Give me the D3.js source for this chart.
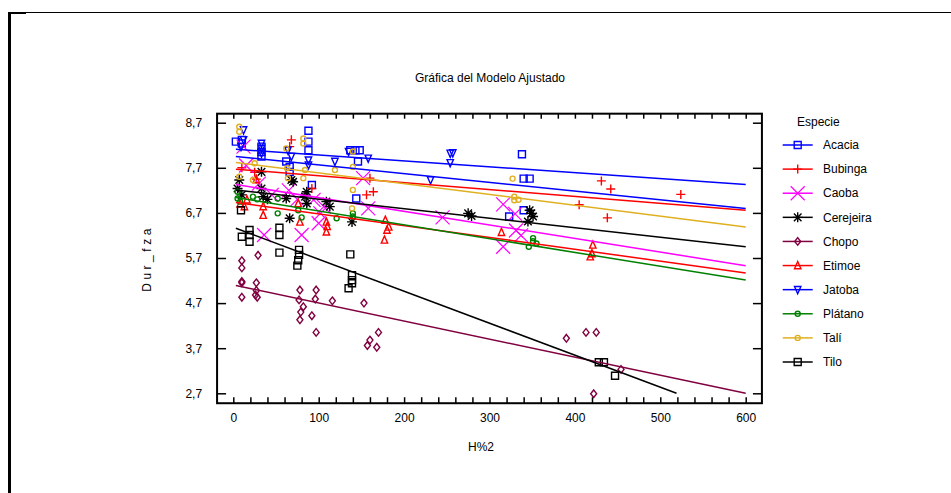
<!DOCTYPE html>
<html>
<head>
<meta charset="utf-8">
<script src="https://cdn.jsdelivr.net/npm/d3@7"></script>
<style>
  body { margin: 0; background: #fff; }
  svg { display: block; font-family: "Liberation Sans", Arial, sans-serif; }
</style>
</head>
<body>
<svg id="chart" width="951" height="493"></svg>
<script>
// ---- data ----
const species = ["Acacia", "Bubinga", "Caoba", "Cerejeira", "Chopo", "Etimoe", "Jatoba", "Plátano", "Talí", "Tilo"];
const xTicks = [0, 100, 200, 300, 400, 500, 600];
const yTicks = [2.7, 3.7, 4.7, 5.7, 6.7, 7.7, 8.7];

const acacia = [[3,8.28],[10,8.32],[10,8.24],[33,8.17],[33,8.05],[33,7.95],[62,7.84],[66,7.72],[66,7.61],[88,8.52],[88,8.28],[88,8.09],[92,7.32],[137,8.09],[143,8.09],[148,8.09],[146,7.84],[144,7.02],[338,8.0],[340,7.46],[347,7.46],[340,6.76],[323,6.62]];
const bubinga = [[68,8.32],[66,8.17],[10,7.7],[25,7.6],[27,7.45],[92,7.24],[160,7.47],[164,7.17],[156,7.10],[405,6.88],[431,7.41],[442,7.23],[524,7.11],[438,6.59]];
const caoba = [[12,8.17],[15,7.75],[30,7.35],[36,6.21],[45,7.10],[65,7.2],[75,7.0],[80,6.21],[94,6.99],[100,6.47],[102,6.69],[106,6.84],[152,7.47],[158,6.80],[245,6.60],[316,6.89],[330,6.68],[331,6.31],[316,5.95],[337,6.2]];
const cerejeira = [[5,7.24],[7,7.43],[10,7.1],[33,7.61],[33,7.24],[35,7.06],[40,7.0],[62,7.02],[66,6.58],[68,7.43],[70,7.39],[84,7.06],[86,7.17],[86,6.91],[109,6.95],[113,6.84],[139,6.50],[275,6.69],[279,6.63],[345,6.51],[347,6.76],[349,6.69],[351,6.62]];
const chopo = [[10,5.64],[10,5.48],[10,5.18],[10,5.15],[10,4.83],[29,5.76],[27,5.15],[27,4.98],[26,4.88],[28,4.83],[78,4.99],[77,4.77],[79,4.50],[82,4.62],[78,4.33],[92,4.42],[97,4.99],[96,4.79],[97,4.05],[116,4.75],[153,4.70],[157,3.76],[160,3.88],[170,4.05],[168,3.72],[390,3.92],[413,4.05],[425,4.05],[454,3.23],[422,2.69]];
const etimoe = [[8,6.9],[13,6.84],[16,6.99],[27,7.44],[35,6.84],[35,6.65],[76,6.91],[78,6.50],[109,6.50],[110,6.4],[109,6.28],[177,6.10],[178,6.54],[180,6.32],[182,6.39],[314,6.27],[421,5.99],[420,5.80],[418,5.73]];
const jatoba = [[12,8.54],[12,8.32],[9,8.17],[33,8.24],[33,8.13],[33,8.02],[64,8.09],[68,7.95],[88,7.87],[88,7.76],[119,7.84],[135,8.06],[158,7.91],[231,7.43],[254,8.02],[257,8.03],[254,7.81]];
const platano = [[5,7.17],[5,7.02],[8,6.95],[23,7.06],[28,7.0],[52,7.02],[52,6.69],[76,6.76],[80,6.6],[121,6.58],[140,6.69],[140,6.62],[346,5.95],[351,6.14],[351,6.07],[355,6.02]];
const tali = [[7,8.61],[7,8.50],[7,7.50],[23,7.43],[25,7.80],[62,8.13],[63,7.69],[64,7.47],[82,8.35],[82,8.24],[82,7.47],[84,7.65],[119,7.65],[140,8.06],[140,7.72],[140,7.21],[139,6.80],[327,7.46],[329,7.06],[329,6.98],[334,6.99]];
const tilo = [[9,6.76],[10,6.17],[19,6.32],[19,6.21],[19,6.06],[54,6.37],[54,6.21],[54,5.82],[77,5.88],[77,5.77],[76,5.65],[75,5.53],[135,5.03],[137,5.78],[139,5.32],[139,5.21],[139,5.14],[428,3.39],[434,3.39],[447,3.09]];

const points = [acacia, bubinga, caoba, cerejeira, chopo, etimoe, jatoba, platano, tali, tilo];

// fitted lines: value at x = fitX0 and at x = fitX1
const fitX0 = [3, 3, 3, 3, 3, 3, 3, 3, 3, 3];
const fitX1 = [600, 600, 600, 600, 600, 600, 600, 600, 600, 519];
const fitY0 = [8.11, 7.67, 7.33, 7.21, 5.09, 6.93, 7.95, 7.04, 7.82, 6.36];
const fitY1 = [7.33, 6.76, 5.53, 5.95, 2.70, 5.37, 6.80, 5.21, 6.39, 2.70];

// ---- styles ----
const colors = ["#0000ff", "#ff0000", "#ff00ff", "#000000", "#800040", "#ff0000", "#0000ff", "#008000", "#e0b020", "#000000"];
const markers = ["square", "plus", "x", "star", "diamond", "triup", "tridown", "circle", "circle", "square"];

const svg = d3.select("#chart");

// outer frame
svg.append("line").attr("x1", 8).attr("x2", 951).attr("y1", 12.5).attr("y2", 12.5)
  .attr("stroke", "#000").attr("stroke-width", 1);
svg.append("rect").attr("x", 8).attr("y", 12).attr("width", 3).attr("height", 481).attr("fill", "#000");
svg.append("rect").attr("x", 8).attr("y", 12).attr("width", 18).attr("height", 2).attr("fill", "#000");

const x = d3.scaleLinear().domain([0, 600]).range([233.3, 745.7]);
const y = d3.scaleLinear().domain([2.7, 8.7]).range([393.3, 122.7]);
const plotLeft = x(-19), plotRight = x(619), plotTop = y(8.9), plotBottom = y(2.48);

svg.append("text")
  .attr("x", 490).attr("y", 82)
  .attr("text-anchor", "middle")
  .style("font-size", "12px")
  .text("Gráfica del Modelo Ajustado");

// axes with inward ticks
const minor = d3.range(0, 601, 20);

svg.append("g").attr("transform", `translate(0,${plotBottom})`)
  .call(d3.axisBottom(x).tickValues(minor).tickSize(-6).tickFormat(""))
  .call(g => g.select(".domain").remove());
svg.append("g").attr("transform", `translate(0,${plotBottom})`)
  .call(d3.axisBottom(x).tickValues(xTicks).tickSize(0).tickPadding(10).tickFormat(d3.format("d")))
  .call(g => g.select(".domain").remove())
  .selectAll("text").style("font-size", "12px").attr("fill", "#000");

svg.append("g").attr("transform", `translate(0,${plotTop})`)
  .call(d3.axisTop(x).tickValues(minor).tickSize(-5).tickFormat(""))
  .call(g => g.select(".domain").remove());

const fmt = d => d.toFixed(1).replace(".", ",");
svg.append("g").attr("transform", `translate(${plotLeft},0)`)
  .call(d3.axisLeft(y).tickValues(yTicks).tickSize(-9).tickPadding(15).tickFormat(fmt))
  .call(g => g.select(".domain").remove())
  .selectAll("text").style("font-size", "12px").attr("fill", "#000");

svg.append("g").attr("transform", `translate(${plotRight},0)`)
  .call(d3.axisRight(y).tickValues(yTicks).tickSize(-9).tickFormat(""))
  .call(g => g.select(".domain").remove());

svg.selectAll(".tick line").attr("stroke", "#000").attr("stroke-width", 1.5);

svg.append("rect")
  .attr("x", plotLeft).attr("y", plotTop)
  .attr("width", plotRight - plotLeft).attr("height", plotBottom - plotTop)
  .attr("fill", "none").attr("stroke", "#000").attr("stroke-width", 2);

svg.append("text")
  .attr("transform", `translate(147,${(plotTop + plotBottom) / 2}) rotate(-90)`)
  .attr("text-anchor", "middle")
  .attr("dy", "0.35em")
  .style("font-size", "12px")
  .style("letter-spacing", "3.5px")
  .text("Dur_fza");

svg.append("text")
  .attr("x", 481).attr("y", 451)
  .attr("text-anchor", "middle")
  .style("font-size", "12px")
  .text("H%2");

// marker shapes
function markerPath(type) {
  switch (type) {
    case "square": return "M-3.5,-3.5H3.5V3.5H-3.5Z";
    case "plus": return "M-4.5,0H4.5M0,-4.5V4.5";
    case "x": return "M-7,-7L7,7M-7,7L7,-7";
    case "star": return "M-5,0H5M0,-5V5M-3.8,-3.8L3.8,3.8M-3.8,3.8L3.8,-3.8";
    case "diamond": return "M0,-3.8L3,0L0,3.8L-3,0Z";
    case "triup": return "M0,-4L3.2,3.2H-3.2Z";
    case "tridown": return "M0,4L3.2,-3.2H-3.2Z";
    case "circle": return "M2.5,0A2.5,2.5 0 1,1 -2.5,0A2.5,2.5 0 1,1 2.5,0Z";
  }
}
function strokeW(type) {
  return type === "x" ? 1.2 : 1.4;
}

const plot = svg.append("g");

species.forEach((s, i) => {
  plot.append("g").selectAll("path")
    .data(points[i])
    .join("path")
    .attr("transform", d => `translate(${x(d[0])},${y(d[1])})`)
    .attr("d", markerPath(markers[i]))
    .attr("fill", "none")
    .attr("stroke", colors[i])
    .attr("stroke-width", strokeW(markers[i]));
});

const line = d3.line().x(d => x(d[0])).y(d => y(d[1]));
species.forEach((s, i) => {
  plot.append("path")
    .datum([[fitX0[i], fitY0[i]], [fitX1[i], fitY1[i]]])
    .attr("d", line)
    .attr("fill", "none")
    .attr("stroke", colors[i])
    .attr("stroke-width", 1.5);
});

// legend
const legend = svg.append("g");
legend.append("text")
  .attr("x", 797).attr("y", 126)
  .style("font-size", "12px")
  .text("Especie");

const row = d3.scaleLinear().domain([0, 9]).range([145, 362]);
species.forEach((s, i) => {
  const g = legend.append("g").attr("transform", `translate(0,${row(i)})`);
  g.append("line").attr("x1", 782.7).attr("x2", 812.7)
    .attr("stroke", colors[i]).attr("stroke-width", 1.5);
  g.append("path")
    .attr("transform", "translate(797.7,0)")
    .attr("d", markerPath(markers[i]))
    .attr("fill", "none")
    .attr("stroke", colors[i])
    .attr("stroke-width", strokeW(markers[i]));
  g.append("text")
    .attr("x", 823).attr("dy", "0.35em")
    .style("font-size", "12px")
    .text(s);
});
</script>
</body>
</html>
